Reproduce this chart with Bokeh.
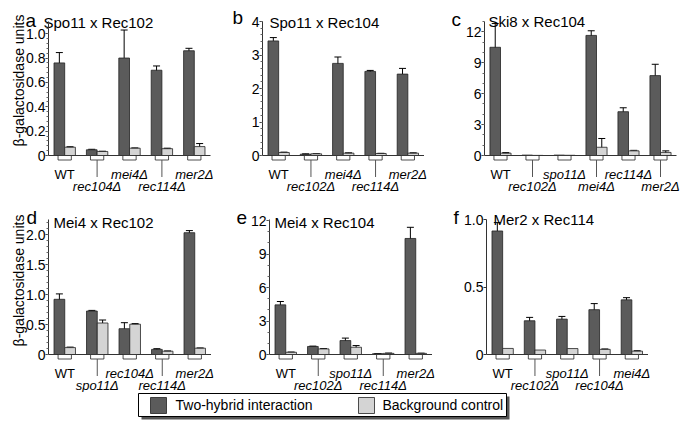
import math
from bokeh.plotting import figure
from bokeh.models import (Range1d, ColumnDataSource, Whisker, TeeHead, LinearAxis,
                          SingleIntervalTicker, CustomJSTickFormatter)
from bokeh.core.properties import value
from bokeh.layouts import row, column
from bokeh.embed import file_html
from bokeh.resources import INLINE

# ---------------- data ----------------
a_cats = ["WT", "rec104Δ", "mei4Δ", "rec114Δ", "mer2Δ"]
a_th = [0.76, 0.047, 0.80, 0.70, 0.86]
a_th_err = [0.085, 0.004, 0.23, 0.035, 0.02]
a_bg = [0.068, 0.033, 0.060, 0.056, 0.073]
a_bg_err = [0.004, 0.002, 0.002, 0.004, 0.025]

b_cats = ["WT", "rec102Δ", "mei4Δ", "rec114Δ", "mer2Δ"]
b_th = [3.42, 0.04, 2.75, 2.51, 2.43]
b_th_err = [0.10, 0.01, 0.19, 0.03, 0.17]
b_bg = [0.09, 0.05, 0.07, 0.06, 0.07]
b_bg_err = [0.01, 0.005, 0.01, 0.005, 0.01]

c_cats = ["WT", "rec102Δ", "spo11Δ", "mei4Δ", "rec114Δ", "mer2Δ"]
c_th = [10.5, 0.04, 0.04, 11.65, 4.25, 7.75]
c_th_err = [2.3, 0.0, 0.0, 0.45, 0.38, 1.1]
c_bg = [0.23, 0.01, 0.02, 0.80, 0.45, 0.30]
c_bg_err = [0.05, 0.0, 0.0, 0.85, 0.05, 0.15]

d_cats = ["WT", "spo11Δ", "rec104Δ", "rec114Δ", "mer2Δ"]
d_th = [0.92, 0.725, 0.43, 0.085, 2.03]
d_th_err = [0.09, 0.01, 0.10, 0.012, 0.035]
d_bg = [0.115, 0.525, 0.505, 0.055, 0.105]
d_bg_err = [0.008, 0.05, 0.01, 0.004, 0.004]

e_cats = ["WT", "rec102Δ", "spo11Δ", "rec114Δ", "mer2Δ"]
e_th = [4.45, 0.72, 1.25, 0.07, 10.4]
e_th_err = [0.30, 0.03, 0.22, 0.01, 1.0]
e_bg = [0.20, 0.50, 0.65, 0.10, 0.10]
e_bg_err = [0.02, 0.03, 0.15, 0.03, 0.02]

f_cats = ["WT", "rec102Δ", "spo11Δ", "rec104Δ", "mei4Δ"]
f_th = [0.915, 0.25, 0.262, 0.332, 0.405]
f_th_err = [0.062, 0.025, 0.02, 0.045, 0.016]
f_bg = [0.045, 0.033, 0.044, 0.038, 0.025]
f_bg_err = [0.0, 0.0, 0.0, 0.003, 0.003]

titles = ["Spo11 x Rec102", "Spo11 x Rec104", "Ski8 x Rec104",
          "Mei4 x Rec102", "Mei4 x Rec104", "Mer2 x Rec114"]
letters = ["a", "b", "c", "d", "e", "f"]
y_title = "β-galactosidase units"
legend_labels = ["Two-hybrid interaction", "Background control"]

# ---------------- style / layout ----------------
FONT = "Liberation Sans"
DARK = "#5b5b5b"
LIGHT = "#d4d4d4"
EDGE = "#222222"

ROW1 = dict(fig_top=0, axis_top=21, zero=155, fig_bottom=195)
ROW2 = dict(fig_top=195, axis_top=219, zero=354, fig_bottom=392)


def make_panel(cats, th, th_err, bg, bg_err, title, letter, rowg, fig_left, fig_width,
               axis_px, spacing, ymax, interval, minor, decimals,
               letter_pos, title_pos, ytitle_pos=None):
    n = len(cats)
    k = ymax / (rowg["zero"] - rowg["axis_top"])     # data units per pixel (y)

    def xd(px):
        return -0.5 + (px - axis_px) / spacing

    def yd(py):
        return (rowg["zero"] - py) * k

    p = figure(width=fig_width, height=rowg["fig_bottom"] - rowg["fig_top"],
               x_range=Range1d(xd(fig_left), xd(fig_left + fig_width)),
               y_range=Range1d(yd(rowg["fig_bottom"]), yd(rowg["fig_top"])),
               x_axis_location=None, y_axis_location=None,
               toolbar_location=None, output_backend="svg", min_border=0)
    p.outline_line_color = None
    p.grid.visible = False
    p.background_fill_color = "white"
    p.border_fill_color = "white"

    ax = LinearAxis(fixed_location=-0.5, bounds=(0, ymax),
                    ticker=SingleIntervalTicker(interval=interval, num_minor_ticks=minor))
    if decimals:
        ax.formatter = CustomJSTickFormatter(
            code="return Math.abs(tick) < 1e-9 ? '0' : tick.toFixed(1);")
    else:
        ax.formatter = CustomJSTickFormatter(code="return tick.toFixed(0);")
    ax.axis_line_color = "#333333"
    ax.major_tick_line_color = "#333333"
    ax.minor_tick_line_color = "#666666"
    ax.major_tick_in = 0
    ax.major_tick_out = 3
    ax.minor_tick_in = 0
    ax.minor_tick_out = 2 if minor else 0
    ax.major_label_standoff = 0
    ax.major_label_text_font = FONT
    ax.major_label_text_font_size = "14px"
    ax.major_label_text_color = "black"
    p.add_layout(ax, "left")

    idx = list(range(n))
    bw = 0.33
    src = ColumnDataSource(dict(
        xd=[i - bw / 2 for i in idx], xl=[i + bw / 2 for i in idx],
        th=th, bg=bg))
    p.vbar(x="xd", top="th", bottom=0, width=bw, source=src,
           fill_color=DARK, line_color=EDGE, line_width=0.8)
    p.vbar(x="xl", top="bg", bottom=0, width=bw, source=src,
           fill_color=LIGHT, line_color=EDGE, line_width=0.8)

    # error bars
    ex, eu, el = [], [], []
    for i in idx:
        for xx, v, e in ((i - bw / 2, th[i], th_err[i]), (i + bw / 2, bg[i], bg_err[i])):
            if e > 0:
                ex.append(xx)
                eu.append(v + e)
                el.append(max(0.0, v - e))
    esrc = ColumnDataSource(dict(x=ex, upper=eu, lower=el))
    p.add_layout(Whisker(base="x", upper="upper", lower="lower", source=esrc,
                         line_color="black", line_width=1,
                         upper_head=TeeHead(size=7, line_color="black", line_width=1),
                         lower_head=TeeHead(size=7, line_color="black", line_width=1)))

    # baseline (x axis line)
    p.segment(x0=[-0.5], y0=[0], x1=[n - 0.5], y1=[0], line_color="#333333", line_width=1)

    # small boxes below the axis and connectors
    bh = 4.5 * k
    p.quad(left=[i - 0.205 for i in idx], right=[i + 0.205 for i in idx],
           top=[0] * n, bottom=[-bh] * n, fill_color="white", line_color=EDGE, line_width=0.8)
    odd = [i for i in idx if i % 2 == 1]
    p.segment(x0=odd, y0=[-bh] * len(odd), x1=odd, y1=[-21.5 * k] * len(odd),
              line_color="#555555", line_width=1)

    # category labels (staggered)
    ly = [-(18.5 if i % 2 == 0 else 31.0) * k for i in idx]
    styles = ["normal" if c == "WT" else "italic" for c in cats]
    lsrc = ColumnDataSource(dict(x=idx, y=ly, t=cats, st=styles))
    p.text(x="x", y="y", text="t", source=lsrc, text_align="center",
           text_baseline="alphabetic", text_font=value(FONT), text_font_size="13px",
           text_font_style="st", text_color="black")

    # panel letter and title
    p.text(x=[xd(letter_pos[0])], y=[yd(letter_pos[1])], text=[letter],
           text_font=value(FONT), text_font_size="19px", text_align="left",
           text_baseline="alphabetic", text_color="black")
    p.text(x=[xd(title_pos[0])], y=[yd(title_pos[1])], text=[title],
           text_font=value(FONT), text_font_size="15px", text_align="left",
           text_baseline="alphabetic", text_color="black")
    if ytitle_pos is not None:
        p.text(x=[xd(ytitle_pos[0])], y=[yd(ytitle_pos[1])], text=[y_title],
               angle=math.pi / 2, text_font=value(FONT), text_font_size="14px",
               text_align="center", text_baseline="middle", text_color="black")
    return p


pa = make_panel(a_cats, a_th, a_th_err, a_bg, a_bg_err, titles[0], letters[0], ROW1,
                0, 225, 48, 32.4, 1.1, 0.2, 5, True, (25, 20), (43, 21.5), (18.5, 80))
pb = make_panel(b_cats, b_th, b_th_err, b_bg, b_bg_err, titles[1], letters[1], ROW1,
                225, 220, 262, 32.3, 4.0, 1, 5, False, (232, 17), (269, 21.5))
pc = make_panel(c_cats, c_th, c_th_err, c_bg, c_bg_err, titles[2], letters[2], ROW1,
                445, 236, 484, 32.0, 13.0, 3, 3, False, (451, 18.5), (488, 21))
pd = make_panel(d_cats, d_th, d_th_err, d_bg, d_bg_err, titles[3], letters[3], ROW2,
                0, 225, 48, 32.5, 2.25, 0.5, 5, True, (26, 216.5), (53, 221.5), (18.5, 280))
pe = make_panel(e_cats, e_th, e_th_err, e_bg, e_bg_err, titles[4], letters[4], ROW2,
                225, 220, 269, 32.5, 12.1, 3, 3, False, (236, 216.5), (274, 221.5))
pf = make_panel(f_cats, f_th, f_th_err, f_bg, f_bg_err, titles[5], letters[5], ROW2,
                445, 236, 486, 32.3, 1.0, 0.5, 0, True, (453, 216.5), (493, 218.5))

# ---------------- legend strip ----------------
LTOP, LH, LW = 392, 33, 681


def sy(s):
    return LTOP + LH - s


pl = figure(width=LW, height=LH, x_range=Range1d(0, LW), y_range=Range1d(0, LH),
            x_axis_location=None, y_axis_location=None, toolbar_location=None,
            output_backend="svg", min_border=0)
pl.outline_line_color = None
pl.grid.visible = False
pl.quad(left=[141], right=[509], top=[sy(396)], bottom=[sy(419)],
        fill_color="#555555", line_color=None)
pl.quad(left=[138], right=[506], top=[sy(393)], bottom=[sy(416)], fill_color="white",
        line_color="black", line_width=1)
pl.quad(left=[150, 358], right=[166, 374], top=[sy(397)] * 2, bottom=[sy(413)] * 2,
        fill_color=[DARK, LIGHT], line_color=EDGE, line_width=0.8)
pl.text(x=[175, 382], y=[sy(404.5)] * 2, text=legend_labels, text_font=value(FONT),
        text_font_size="14px", text_baseline="middle", text_align="left", text_color="black")

layout = column(row(pa, pb, pc), row(pd, pe, pf), pl)
open("out.html", "w").write(file_html(layout, INLINE))
